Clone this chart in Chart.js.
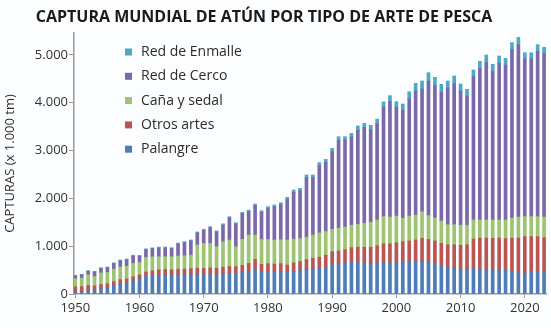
<!DOCTYPE html>
<html>
<head>
<meta charset="utf-8">
<script src="https://cdn.jsdelivr.net/npm/chart.js@4"></script>
<style>
  html, body { margin: 0; padding: 0; background: #fbfdfe; }
  #wrap { width: 551px; height: 328px; }
</style>
</head>
<body>
<div id="wrap"><canvas id="chart" width="551" height="328"></canvas></div>
<script>
// Years 1950 - 2023
const years = [];
for (let y = 1950; y <= 2023; y++) years.push(y);

// Capturas (x 1.000 tm)
const palangre = [
  40, 50, 70, 80, 110, 130, 170, 210, 230, 280,
  320, 370, 385, 395, 400, 395, 400, 400, 405, 410,
  400, 410, 400, 420, 430, 430, 450, 470, 520, 460,
  465, 465, 460, 455, 470, 500, 520, 520, 540, 560,
  640, 630, 650, 680, 660, 650, 640, 650, 660, 650,
  660, 680, 690, 690, 690, 680, 640, 580, 560, 540,
  520, 520, 530, 520, 510, 500, 510, 500, 480, 450,
  440, 470, 480, 480
];
const otrosArtes = [
  110, 105, 110, 90, 90, 85, 90, 90, 85, 80,
  80, 90, 100, 110, 115, 110, 120, 120, 125, 130,
  135, 135, 140, 140, 145, 140, 150, 170, 205, 160,
  170, 160, 175, 150, 180, 180, 200, 227, 230, 250,
  245, 270, 280, 290, 320, 330, 340, 360, 390, 400,
  410, 415, 420, 440, 475, 460, 470, 480, 470, 490,
  500, 510, 620, 650, 660, 665, 660, 660, 690, 720,
  760, 730, 720, 700
];
const canaSedal = [
  170, 180, 220, 195, 240, 235, 260, 265, 265, 280,
  260, 307, 296, 276, 266, 276, 275, 280, 285, 485,
  525, 515, 450, 535, 555, 420, 544, 594, 509, 520,
  505, 505, 500, 525, 500, 480, 470, 487, 510, 500,
  468, 480, 470, 470, 480, 500, 520, 540, 570, 560,
  560, 490, 520, 520, 557, 500, 480, 470, 420, 420,
  420, 410, 400, 380, 380, 385, 380, 390, 420, 440,
  420, 420, 420, 430
];
const redCerco = [
  60, 65, 75, 95, 95, 100, 115, 128, 135, 153,
  130, 158, 164, 179, 182, 168, 250, 275, 295, 250,
  271, 324, 305, 348, 460, 474, 535, 491, 614, 568,
  647, 692, 730, 847, 976, 1001, 1245, 1201, 1407, 1447,
  1624, 1831, 1821, 1841, 1965, 2001, 1939, 2008, 2290, 2420,
  2274, 2260, 2452, 2597, 2564, 2810, 2773, 2696, 2856, 2951,
  2803, 2702, 2996, 3168, 3290, 3105, 3279, 3240, 3528, 3610,
  3298, 3298, 3456, 3420
];
const redEnmalle = [
  10, 12, 13, 14, 16, 15, 17, 18, 17, 19,
  19, 20, 20, 20, 20, 20, 20, 20, 20, 22,
  22, 25, 25, 25, 28, 28, 30, 30, 35, 35,
  40, 40, 45, 45, 50, 50, 55, 55, 60, 60,
  70, 80, 70, 80, 90, 90, 90, 100, 110, 120,
  120, 130, 150, 160, 170, 180, 170, 160, 150, 160,
  150, 140, 140, 150, 160, 150, 150, 140, 140, 150,
  130, 130, 140, 130
];

const yTicks = [0, 1000, 2000, 3000, 4000, 5000];
const xTicks = [1950, 1960, 1970, 1980, 1990, 2000, 2010, 2020];

const FONT = "'Open Sans', 'DejaVu Sans', sans-serif";
const TITLE = 'CAPTURA MUNDIAL DE ATÚN POR TIPO DE ARTE DE PESCA';

const series = [
  { label: 'Palangre', data: palangre, color: '#4e7cb6' },
  { label: 'Otros artes', data: otrosArtes, color: '#b95652' },
  { label: 'Caña y sedal', data: canaSedal, color: '#9dc56f' },
  { label: 'Red de Cerco', data: redCerco, color: '#7a68a8' },
  { label: 'Red de Enmalle', data: redEnmalle, color: '#4ea9c3' }
];

// Background fill + title (title sits a bit left of centre in the original)
const bgPlugin = {
  id: 'bg',
  beforeDraw(chart) {
    const ctx = chart.ctx;
    ctx.save();
    ctx.fillStyle = '#fbfdfe';
    ctx.fillRect(0, 0, chart.width, chart.height);
    ctx.font = 'bold 16px ' + FONT;
    ctx.fillStyle = '#1a1a1a';
    ctx.textAlign = 'center';
    ctx.textBaseline = 'middle';
    ctx.fillText(TITLE, 264, 17);
    ctx.restore();
  }
};

// Vertical legend inside the plot, reversed order
const legendPlugin = {
  id: 'innerLegend',
  afterDraw(chart) {
    const ctx = chart.ctx;
    const x0 = 125, y0 = 52, step = 24.3;
    ctx.save();
    ctx.font = '14px ' + FONT;
    ctx.textBaseline = 'middle';
    chart.data.datasets.slice().reverse().forEach((ds, i) => {
      const y = y0 + i * step;
      ctx.fillStyle = ds.backgroundColor;
      ctx.fillRect(x0, y - 3.5, 7, 7);
      ctx.fillStyle = '#2b2b2b';
      ctx.fillText(ds.label, x0 + 16, y);
    });
    ctx.restore();
  }
};

new Chart(document.getElementById('chart'), {
  type: 'bar',
  data: {
    labels: years,
    datasets: series.map(s => ({
      label: s.label,
      data: s.data,
      backgroundColor: s.color,
      borderWidth: 0,
      barThickness: 3
    }))
  },
  options: {
    responsive: false,
    animation: false,
    layout: { padding: { left: 0, right: 5, top: 33, bottom: 0 } },
    plugins: {
      legend: { display: false },
      tooltip: { enabled: false },
      title: { display: false }
    },
    scales: {
      x: {
        type: 'linear',
        stacked: true,
        offset: false,
        min: 1949.8,
        max: 2023.3,
        afterFit: s => { s.height = 34; },
        afterBuildTicks: s => { s.ticks = xTicks.map(v => ({ value: v })); },
        grid: { display: true, drawOnChartArea: false, drawTicks: true, tickLength: 4, color: '#9a9a9a', offset: false },
        border: { display: true, color: '#9a9a9a', width: 1.5 },
        ticks: {
          color: '#333',
          font: { family: FONT, size: 13 },
          padding: 2,
          maxRotation: 0,
          callback: v => String(v)
        }
      },
      y: {
        stacked: true,
        min: 0,
        max: 5460,
        afterFit: s => { s.width = 74; },
        afterBuildTicks: s => { s.ticks = yTicks.map(v => ({ value: v })); },
        grid: { display: true, drawOnChartArea: false, drawTicks: true, tickLength: 5, color: '#9a9a9a' },
        border: { display: true, color: '#9a9a9a', width: 1.5 },
        title: {
          display: true,
          text: 'CAPTURAS (x 1.000 tm)',
          color: '#2b2b2b',
          font: { family: FONT, size: 13 },
          padding: { top: 2, bottom: 0 }
        },
        ticks: {
          color: '#333',
          font: { family: FONT, size: 13 },
          padding: 1,
          callback: v => v === 0 ? '0' : (v / 1000) + '.000'
        }
      }
    }
  },
  plugins: [bgPlugin, legendPlugin]
});
</script>
</body>
</html>
